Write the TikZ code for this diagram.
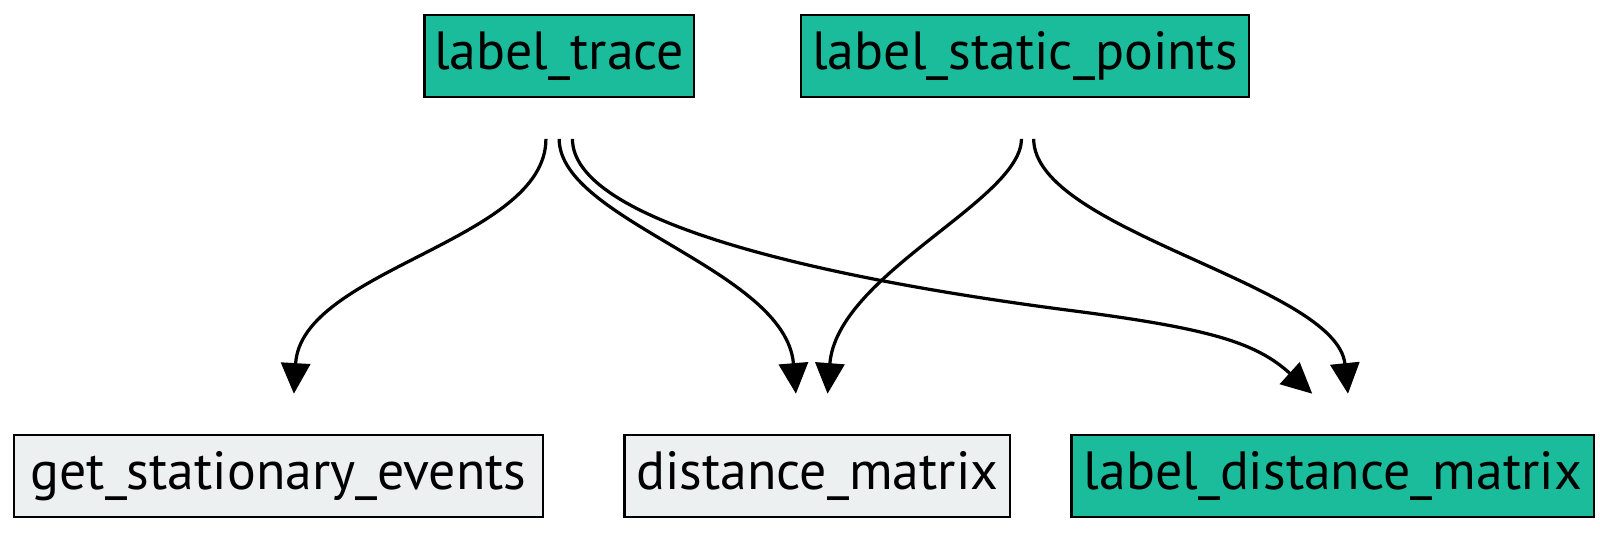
\documentclass[tikz,border=0pt]{standalone}
\usepackage{fontspec}
\setmainfont{PT Sans}
\usepackage{tikz}
\usetikzlibrary{arrows.meta, positioning, calc}

\definecolor{turq}{RGB}{26,188,156}
\definecolor{cloud}{RGB}{236,240,241}

\begin{document}
\begin{tikzpicture}[
        func/.style={rectangle, draw=black, line width=1.3pt, minimum height=1.6cm, inner sep=0pt, font=\fontsize{30}{36}\selectfont},
        labfn/.style={func, fill=turq},
        plainfn/.style={func, fill=cloud},
        dep/.style={-{Triangle[length=0.6cm, width=0.57cm]}, line width=1.8pt, draw=black}
    ]
        \useasboundingbox (0,0) rectangle (31.36,-10.46);
        \node[labfn, minimum width=5.28cm] (trace) at (10.96, -1.10) {label\_trace};
        \node[labfn, minimum width=8.78cm] (static) at (20.09, -1.10) {label\_static\_points};
        \node[plainfn, minimum width=10.36cm] (events) at (5.46, -9.33) {get\_stationary\_events};
        \node[plainfn, minimum width=7.56cm] (dist) at (16.02, -9.33) {distance\_matrix};
        \node[labfn, minimum width=10.24cm] (labdist) at (26.12, -9.33) {label\_distance\_matrix};
        \draw[dep] ([xshift=-0.26cm, yshift=-0.8cm]trace.south) .. controls +(0,-2.0) and +(0.14,2.44) .. ([xshift=0.30cm, yshift=0.79cm]events.north);
        \draw[dep] ([yshift=-0.8cm]trace.south) .. controls +(0,-1.6) and +(-0.2,2.44) .. ([xshift=-0.42cm, yshift=0.79cm]dist.north);
        \draw[dep] ([xshift=0.26cm, yshift=-0.8cm]trace.south) .. controls +(0,-1.6) and +(-5,0.65) .. (20.94,-6.08) .. controls +(2.8,-0.36) and +(-1.1,1.0) .. ([xshift=-0.4cm, yshift=0.79cm]labdist.north);
        \draw[dep] ([xshift=-0.07cm, yshift=-0.8cm]static.south) .. controls +(0,-1.2) and +(0.18,2.34) .. ([xshift=0.20cm, yshift=0.79cm]dist.north);
        \draw[dep] ([xshift=0.17cm, yshift=-0.8cm]static.south) .. controls +(0,-1.8) and +(-0.22,2.14) .. ([xshift=0.30cm, yshift=0.79cm]labdist.north);
    \end{tikzpicture}
\end{document}
